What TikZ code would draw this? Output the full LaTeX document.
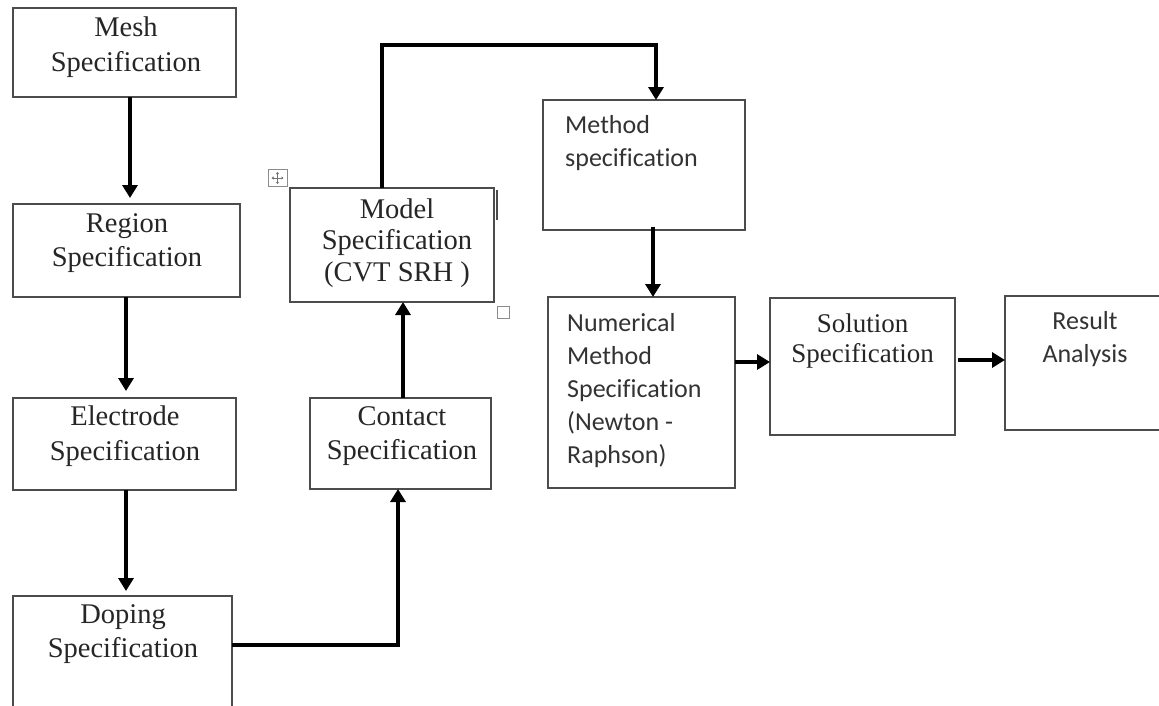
\documentclass[tikz,border=0pt]{standalone}
\usepackage{fontspec}
\setmainfont{Liberation Serif}
\newfontfamily\calfont[Ligatures={NoCommon}]{Carlito}
\usetikzlibrary{arrows.meta}
\begin{document}
\begin{tikzpicture}[x=1pt,y=-1pt,
 blk/.style={draw=black!70, line width=1.6pt, inner sep=0pt, outer sep=0pt, fill=white},
 conn/.style={line width=4.6pt, -{Triangle[length=13pt,width=15pt]}},
 serif/.style={font=\fontsize{28.5}{34.5}\selectfont, align=center, inner sep=0pt, text=black!85},
 sans/.style={font=\calfont\fontsize{26}{33}\selectfont, align=left, inner sep=0pt, text=black!80},
 handle/.style={draw=black!45, line width=0.8pt}]
\clip (0,0) rectangle (1159,705);
\fill[white] (0,0) rectangle (1159,705);
% boxes
\node[blk, minimum width=223pt, minimum height=89pt] (mesh) at (124.5,52.5) {};
\node[blk, minimum width=227pt, minimum height=93pt] (region) at (126.5,250.5) {};
\node[blk, minimum width=223pt, minimum height=92pt] (electrode) at (124.5,444) {};
\node[blk, minimum width=219pt, minimum height=116pt] (doping) at (122.5,654) {};
\node[blk, minimum width=181pt, minimum height=91pt] (contact) at (400.5,443.5) {};
\node[blk, minimum width=204pt, minimum height=114pt] (model) at (392,245) {};
\node[blk, minimum width=202pt, minimum height=130pt] (method) at (644,165) {};
\node[blk, minimum width=187pt, minimum height=191pt] (numerical) at (641.5,392.5) {};
\node[blk, minimum width=185pt, minimum height=137pt] (solution) at (862.5,366.5) {};
\node[blk, minimum width=160pt, minimum height=134pt] (result) at (1085,363) {};
% texts
\node[serif] (tmesh) at (126,47) {Mesh\\Specification};
\node[serif] (tregion) at (127,243) {Region\\Specification};
\node[serif] (telectrode) at (125,436) {Electrode\\Specification};
\node[serif] (tdoping) at (123,634) {Doping\\Specification};
\node[serif] (tcontact) at (402,436) {Contact\\Specification};
\node[serif, font=\fontsize{28.5}{31.5}\selectfont] (tmodel) at (397,243) {Model\\Specification\\(CVT SRH )};
\node[serif, font=\fontsize{27}{30}\selectfont] (tsolution) at (862.5,340.5) {Solution\\Specification};
\node[sans, align=center] (tresult) at (1085,339) {Result\\Analysis};
\node[sans, anchor=west] (tmethod) at (565,143) {Method\\specification};
\node[sans, anchor=west] (tnumerical) at (567,391) {Numerical\\Method\\Specification\\(Newton -\\Raphson)};
% connectors
\draw[conn] (mesh.south -| 130,0) -- ([yshift=6pt]region.north -| 130,0);
\draw[conn] (region.south -| 126,0) -- ([yshift=7pt]electrode.north -| 126,0);
\draw[conn] (electrode.south -| 126,0) -- ([yshift=5pt]doping.north -| 126,0);
\coordinate (dc) at (398,645);
\draw[conn] (doping.east |- dc) -- (dc) -- (contact.south -| dc);
\draw[conn] (contact.north -| 403,0) -- (model.south -| 403,0);
\coordinate (mm1) at (382,45);
\coordinate (mm2) at (656,45);
\draw[conn] (model.north -| mm1) -- (mm1) -- (mm2) -- (method.north -| mm2);
\draw[conn] ([yshift=3pt]method.south -| 653,0) -- (numerical.north -| 653,0);
\draw[conn] (numerical.east |- 0,362) -- (solution.west |- 0,362);
\draw[conn] ([xshift=3pt]solution.east |- 0,360) -- (result.west |- 0,360);
% editor handles
\node[handle, minimum width=19pt, minimum height=17pt, inner sep=0pt] (mv) at (277.5,178) {};
\draw[black!55, line width=0.6pt, {Triangle[length=2pt,width=3pt]}-{Triangle[length=2pt,width=3pt]}] ([xshift=-6pt]mv.center) -- ([xshift=6pt]mv.center);
\draw[black!55, line width=0.6pt, {Triangle[length=2pt,width=3pt]}-{Triangle[length=2pt,width=3pt]}] ([yshift=-6pt]mv.center) -- ([yshift=6pt]mv.center);
\node[handle, minimum width=12pt, minimum height=12pt, inner sep=0pt] (rs) at (503.5,312) {};
\coordinate (vl1) at (497,190);
\coordinate (vl2) at (497,220);
\draw[black!70, line width=1.8pt] (vl1) -- (vl2);
\end{tikzpicture}
\end{document}
